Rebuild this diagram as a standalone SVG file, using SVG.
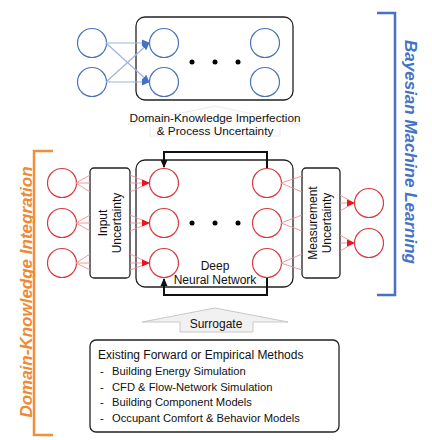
<svg xmlns="http://www.w3.org/2000/svg" width="432" height="440" viewBox="0 0 432 440">
<style>
.box{fill:#fff;stroke:#222;stroke-width:1.3}
.bc{fill:#fff;stroke:#4a72b8;stroke-width:1.2}
.rc{fill:#fff;stroke:#d83a3f;stroke-width:1.2}
.bl{stroke:#9fb3dc;stroke-width:1.2;fill:none}
.rl{stroke:#ec8f92;stroke-width:0.9;fill:none}
.t{font-family:"Liberation Sans",Arial,sans-serif;fill:#111}
.loop{stroke:#111;stroke-width:2;fill:none}
.dot{fill:#000}
.ar{fill:#f1f1f1;stroke:#c8c8c8;stroke-width:1}
</style>
<defs>
<marker id="ab" markerWidth="8" markerHeight="8" refX="7" refY="4" orient="auto" markerUnits="userSpaceOnUse"><path d="M0,0.5 L8,4 L0,7.5 Z" fill="#4472c4"/></marker>
<marker id="ar" markerWidth="8" markerHeight="8" refX="7" refY="4" orient="auto" markerUnits="userSpaceOnUse"><path d="M0,0.5 L8,4 L0,7.5 Z" fill="#e8131c"/></marker>
<marker id="ak" markerWidth="8" markerHeight="8" refX="7" refY="4" orient="auto" markerUnits="userSpaceOnUse"><path d="M0,0.5 L8,4 L0,7.5 Z" fill="#111"/></marker>
</defs>

<!-- brackets -->
<g id="bayesian-bracket">
<path d="M377,13 L395,13 L395,295 L377,295" fill="none" stroke="#4472c4" stroke-width="2.5"/>
<text class="t" transform="translate(405,152) rotate(90)" text-anchor="middle" font-size="17" font-weight="bold" font-style="italic" style="fill:#4472c4">Bayesian Machine Learning</text>
</g>
<g id="domain-bracket">
<path d="M53,151 L34,151 L34,435 L53,435" fill="none" stroke="#f0903a" stroke-width="2.5"/>
<text class="t" transform="translate(32,292) rotate(-90)" text-anchor="middle" font-size="17" font-weight="bold" font-style="italic" style="fill:#ef8a34">Domain-Knowledge Integration</text>
</g>

<!-- top section -->
<g id="top-box"><rect class="box" x="136" y="17" width="157" height="83" rx="9"/></g>
<g id="imperfection-label">
<path class="ar" d="M215,106 L300,124 L280,124 L280,136 L150,136 L150,124 L128,124 Z" style="fill:#fdfdfd;stroke:#ececec"/>
<text class="t" x="215" y="122" text-anchor="middle" font-size="11.8">Domain-Knowledge Imperfection</text>
<text class="t" x="215" y="135" text-anchor="middle" font-size="11.8">&amp; Process Uncertainty</text>
</g>
<g id="top-nodes">
<circle class="bc" cx="92" cy="43" r="14.5"/>
<circle class="bc" cx="92" cy="82" r="14.5"/>
<circle class="bc" cx="164" cy="43" r="14.5"/>
<circle class="bc" cx="164" cy="82" r="14.5"/>
<circle class="bc" cx="265" cy="43" r="14.5"/>
<circle class="bc" cx="265" cy="82" r="14.5"/>
<circle class="dot" cx="192" cy="62" r="2.5"/>
<circle class="dot" cx="215" cy="62" r="2.5"/>
<circle class="dot" cx="238" cy="62" r="2.5"/>
</g>

<!-- middle section -->
<g id="dnn-box"><rect class="box" x="136" y="160" width="157" height="127" rx="9"/>
<text class="t" x="215" y="270" text-anchor="middle" font-size="12">Deep</text>
<text class="t" x="215" y="284" text-anchor="middle" font-size="12">Neural Network</text>
</g>
<g id="input-uncertainty"><rect class="box" x="90" y="168" width="40" height="110" rx="4"/>
<text class="t" transform="translate(107,223) rotate(-90)" text-anchor="middle" font-size="12">Input</text>
<text class="t" transform="translate(121,223) rotate(-90)" text-anchor="middle" font-size="12">Uncertainty</text>
</g>
<g id="measurement-uncertainty"><rect class="box" x="302" y="168" width="38" height="110" rx="4"/>
<text class="t" transform="translate(317,223) rotate(-90)" text-anchor="middle" font-size="12">Measurement</text>
<text class="t" transform="translate(331,223) rotate(-90)" text-anchor="middle" font-size="12">Uncertainty</text>
</g>
<g id="input-nodes">
<circle class="rc" cx="62" cy="183" r="14.5"/>
<circle class="rc" cx="62" cy="223" r="14.5"/>
<circle class="rc" cx="62" cy="263" r="14.5"/>
</g>
<g id="hidden-nodes">
<circle class="rc" cx="164" cy="183" r="14.5"/>
<circle class="rc" cx="164" cy="223" r="14.5"/>
<circle class="rc" cx="164" cy="263" r="14.5"/>
<circle class="rc" cx="267" cy="183" r="14.5"/>
<circle class="rc" cx="267" cy="223" r="14.5"/>
<circle class="rc" cx="267" cy="263" r="14.5"/>
<circle class="dot" cx="192" cy="223" r="2.5"/>
<circle class="dot" cx="215" cy="223" r="2.5"/>
<circle class="dot" cx="238" cy="223" r="2.5"/>
</g>
<g id="output-nodes">
<circle class="rc" cx="369" cy="203" r="14.5"/>
<circle class="rc" cx="369" cy="243" r="14.5"/>
</g>

<!-- bottom -->
<g id="surrogate">
<path class="ar" d="M215,308 L288,322 L253,322 L253,332 L180,332 L180,322 L142,322 Z"/>
<text class="t" x="216" y="328" text-anchor="middle" font-size="12">Surrogate</text>
</g>
<g id="methods-box">
<rect class="box" x="90" y="340" width="249" height="92" rx="6"/>
<text class="t" x="98" y="359" font-size="12">Existing Forward or Empirical Methods</text>
<text class="t" x="100" y="375" font-size="11.2">-</text><text class="t" x="112" y="375" font-size="11.2">Building Energy Simulation</text>
<text class="t" x="100" y="391" font-size="11.2">-</text><text class="t" x="112" y="391" font-size="11.2">CFD &amp; Flow-Network Simulation</text>
<text class="t" x="100" y="406" font-size="11.2">-</text><text class="t" x="112" y="406" font-size="11.2">Building Component Models</text>
<text class="t" x="100" y="422" font-size="11.2">-</text><text class="t" x="112" y="422" font-size="11.2">Occupant Comfort &amp; Behavior Models</text>
</g>

<!-- connectors -->
<g id="connectors">
<line class="bl" x1="106" y1="43" x2="149" y2="43" marker-end="url(#ab)"/>
<line class="bl" x1="106" y1="82" x2="149" y2="82" marker-end="url(#ab)"/>
<line class="bl" x1="106" y1="43" x2="149" y2="82" marker-end="url(#ab)"/>
<line class="bl" x1="106" y1="82" x2="149" y2="43" marker-end="url(#ab)"/>

<path class="rl" d="M76,183 L90,175 M76,183 L90,183 M76,183 L90,192 M76,223 L90,215 M76,223 L90,223 M76,223 L90,231 M76,263 L90,254 M76,263 L90,263 M76,263 L90,270"/>
<path class="rl" d="M130,175 L149,183 M130,192 L149,183 M130,215 L149,223 M130,231 L149,223 M130,254 L149,263 M130,270 L149,263"/>
<line class="rl" x1="130" y1="183" x2="149" y2="183" marker-end="url(#ar)"/>
<line class="rl" x1="130" y1="223" x2="149" y2="223" marker-end="url(#ar)"/>
<line class="rl" x1="130" y1="263" x2="149" y2="263" marker-end="url(#ar)"/>

<path class="rl" d="M281,183 L302,176 M281,183 L302,192 M281,223 L302,215 M281,223 L302,231 M281,263 L302,254 M281,263 L302,270"/>
<path class="rl" d="M340,195 L354,203 M340,211 L354,203 M340,235 L354,243 M340,251 L354,243"/>
<line class="rl" x1="340" y1="203" x2="354" y2="203" marker-end="url(#ar)"/>
<line class="rl" x1="340" y1="243" x2="354" y2="243" marker-end="url(#ar)"/>

<path class="loop" d="M267,168 L267,152 L164,152 L164,167" marker-end="url(#ak)"/>
<path class="loop" d="M267,278 L267,295 L164,295 L164,279" marker-end="url(#ak)"/>
</g>
</svg>
